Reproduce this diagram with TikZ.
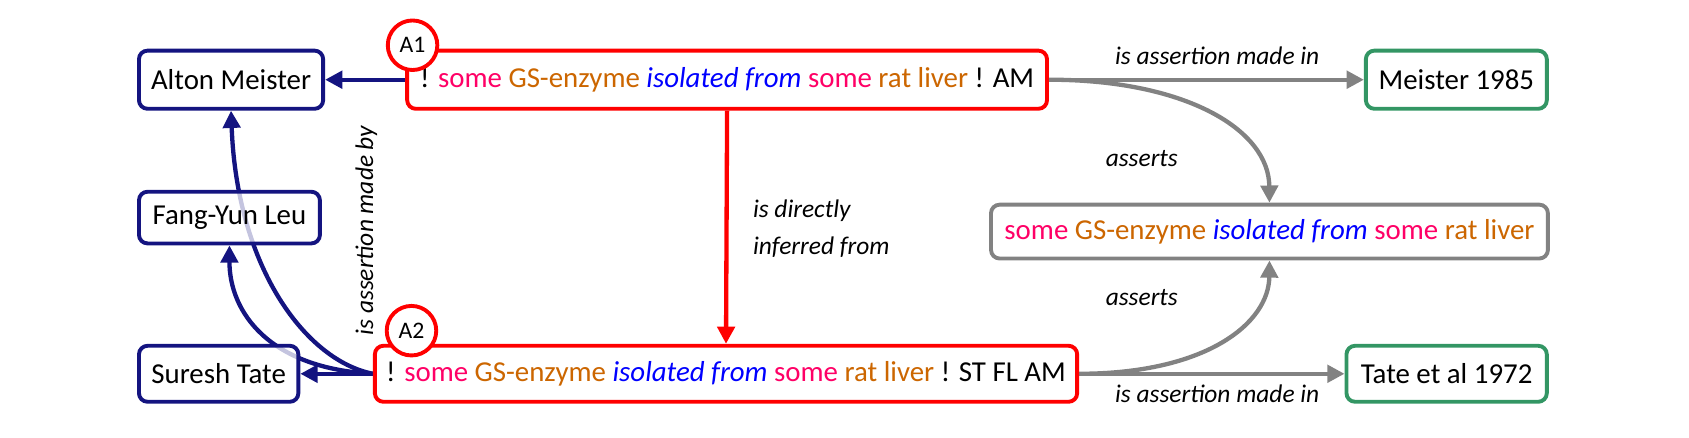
\documentclass[tikz,border=0pt]{standalone}
\usepackage{fontspec}
\setmainfont{Carlito}
\usetikzlibrary{arrows.meta,backgrounds}
\definecolor{navyc}{RGB}{20,20,128}
\definecolor{greenc}{RGB}{51,150,100}
\definecolor{greyc}{RGB}{130,130,130}
\definecolor{pinkc}{RGB}{255,0,102}
\definecolor{orangec}{RGB}{204,102,0}
\definecolor{bluec}{RGB}{0,0,255}
\definecolor{redc}{RGB}{255,0,0}
\newcommand{\gsstmt}{\textcolor{pinkc}{some} \textcolor{orangec}{GS-enzyme} \textcolor{bluec}{\itshape isolated from} \textcolor{pinkc}{some} \textcolor{orangec}{rat liver}}
\begin{document}
\begin{tikzpicture}[x=0.5pt,y=-0.5pt,
  every node/.style={font=\fontsize{13.4}{16}\selectfont},
  box/.style={draw, rounded corners=4pt, line width=1.8pt, fill=white, fill opacity=0.75, text opacity=1, inner sep=0pt, minimum height=27pt},
  personbox/.style={box, draw=navyc},
  sourcebox/.style={box, draw=greenc},
  assertbox/.style={box, draw=redc},
  propbox/.style={box, draw=greyc},
  tagcircle/.style={circle, draw=redc, fill=white, line width=1.8pt, minimum size=23pt, inner sep=0pt, font=\fontsize{11}{13}\selectfont},
  lbl/.style={font=\fontsize{11.8}{14}\selectfont\itshape},
  tip/.style={-{Triangle[length=8pt,width=8pt]}, line width=2pt},
  navyarrow/.style={tip, draw=navyc},
  greyarrow/.style={tip, draw=greyc},
  redarrow/.style={tip, draw=redc},
]
\useasboundingbox (0,0) rectangle (1568,406);
% nodes
\node[personbox, minimum width=85.5pt] (alton) at (214.5,74) {Alton Meister};
\node[personbox, minimum width=84pt, minimum height=24pt] (fang) at (213,202) {Fang-Yun Leu};
\node[personbox, minimum width=74pt, minimum height=26pt] (suresh) at (203,347) {Suresh Tate};
\node[assertbox, minimum width=297pt] (a1) at (675,74) {! \gsstmt\ ! AM};
\node[assertbox, minimum width=326pt, minimum height=26pt] (a2) at (674,347) {! \gsstmt\ ! ST FL AM};
\node[sourcebox, minimum width=84pt] (meister) at (1352,74) {Meister 1985};
\node[propbox, minimum width=258.5pt, minimum height=25pt] (prop) at (1178.5,215) {\gsstmt};
\node[sourcebox, minimum width=93pt, minimum height=26pt] (tate) at (1343,347) {Tate et al 1972};
\node[tagcircle] (c1) at (383,42) {A1};
\node[tagcircle] (c2) at (382,307) {A2};
% labels
\node[lbl] (l1) at (1130,52) {is assertion made in};
\node[lbl] (l2) at (1060,147) {asserts};
\node[lbl] (l3) at (1060,276) {asserts};
\node[lbl] (l4) at (1130,366) {is assertion made in};
\node[lbl, anchor=west, align=left, font=\fontsize{11.8}{17}\selectfont\itshape] (l5) at (692,212) {is directly\\inferred from};
\node[lbl, rotate=90] (l6) at (340,214) {is assertion made by};
% edges
\begin{scope}[on background layer]
\draw[navyarrow] (a1.west) -- (alton.east);
\draw[navyarrow] (a2.west) -- (suresh.east);
\draw[navyarrow] (a2.west) .. controls (250,342) and (213,290) .. (fang.south);
\draw[navyarrow] (a2.west) .. controls (285,335) and (220,250) .. (alton.south);
\draw[redarrow] (a1.south) -- (a2.north);
\draw[greyarrow] (a1.east) -- (meister.west);
\draw[greyarrow] (a2.east) -- (tate.west);
\draw[greyarrow] (a1.east) .. controls (1100,74) and (1178,120) .. (prop.north);
\draw[greyarrow] (a2.east) .. controls (1120,347) and (1178,300) .. (prop.south);
\end{scope}
\end{tikzpicture}
\end{document}
